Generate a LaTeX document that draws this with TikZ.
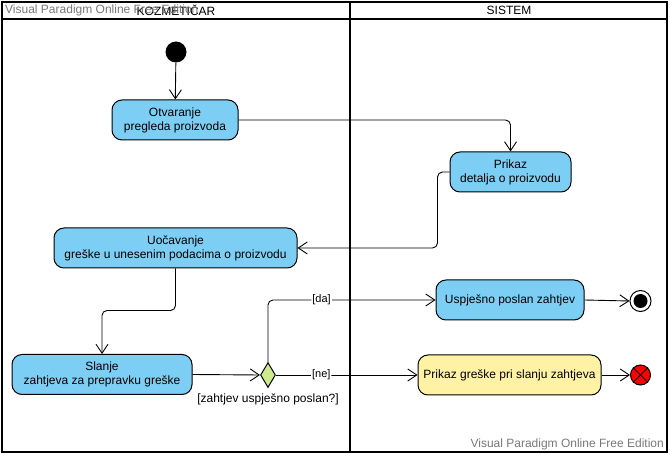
\documentclass[tikz,border=0pt]{standalone}
\usepackage{fontspec}
\setmainfont{Liberation Sans}
\usetikzlibrary{arrows.meta,shapes.geometric,positioning}
\definecolor{actblue}{RGB}{125,206,244}
\definecolor{actyellow}{RGB}{255,242,165}
\definecolor{decgreen}{RGB}{205,235,140}
\definecolor{wmgray}{RGB}{120,120,120}

\begin{document}
\begin{tikzpicture}[x=1pt,y=-1pt,
    font=\fontsize{12}{14}\selectfont,
    action/.style={draw,line width=1pt,fill=actblue,rounded corners=10pt,minimum height=40pt,align=center,inner sep=2pt},
    flow/.style={-{Straight Barb[length=9pt,width=12pt]},line width=0.9pt,rounded corners=5pt},
    guard/.style={fill=white,inner sep=1pt,font=\fontsize{11}{13}\selectfont},
    wmark/.style={text=wmgray,inner sep=0pt}]
    \useasboundingbox (0,0) rectangle (670,454);

    % draw swimlanes
    \draw[line width=1.5pt] (2,2) rectangle (667,452);
    \draw[line width=1.5pt] (2,19) -- (667,19);
    \draw[line width=2pt] (350,2) -- (350,452);
    \node (laneK) at (176,10.5) {KOZMETIČAR};
    \node (laneS) at (509,10.5) {SISTEM};
    \node[wmark,anchor=west] (wmTop) at (5,10.5) {Visual Paradigm Online Free Edition};
    \node[wmark,anchor=east] (wmBot) at (664,444) {Visual Paradigm Online Free Edition};

    % draw nodes
    \node[circle,fill=black,minimum size=21pt,inner sep=0pt] (start) at (176,52) {};
    \node[action,minimum width=126pt] (open) at (175,120) {Otvaranje\\pregleda proizvoda};
    \node[action,minimum width=121pt] (detail) at (510.5,172) {Prikaz\\detalja o proizvodu};
    \node[action,minimum width=243pt] (notice) at (175.5,248) {Uočavanje\\greške u unesenim podacima o proizvodu};
    \node[action,minimum width=180pt] (send) at (102,374.5) {Slanje\\zahtjeva za prepravku greške};
    \node[diamond,draw,line width=1pt,fill=decgreen,minimum width=15pt,minimum height=25pt,inner sep=0pt] (dec) at (268,375) {};
    \node[below=6pt of dec,inner sep=0pt] (decLbl) {[zahtjev uspješno poslan?]};
    \node[action,minimum width=148pt] (ok) at (510,300) {Uspješno poslan zahtjev};
    \node[action,fill=actyellow,minimum width=183pt] (err) at (509.5,375) {Prikaz greške pri slanju zahtjeva};
    \node[circle,draw,line width=1pt,fill=white,minimum size=21pt,inner sep=0pt] (endOk) at (640.5,301) {};
    \node[circle,fill=black,minimum size=14pt,inner sep=0pt] (endOkDot) at (endOk) {};
    \node[circle,draw,line width=1pt,fill=red,minimum size=20pt,inner sep=0pt] (endErr) at (640.5,375) {};
    \draw[line width=1pt] (endErr.north west) -- (endErr.south east);
    \draw[line width=1pt] (endErr.north east) -- (endErr.south west);

    % draw flows
    \draw[flow] (start) -- (open);
    \draw[flow] (open.east) -| (detail.north);
    \draw[flow] (detail.west) -- ++(-12,0) |- (notice.east);
    \draw[flow] (notice.south) -- ++(0,42) -| (send.north);
    \draw[flow] (send.east) -- (dec.west);
    \draw[flow] (dec.north) |- (ok.west) node[guard,pos=0.66] {[da]};
    \draw[flow] (dec.east) -- (err.west) node[guard,pos=0.32] {[ne]};
    \draw[flow] (ok.east) -- (endOk.west);
    \draw[flow] (err.east) -- (endErr.west);
\end{tikzpicture}
\end{document}
